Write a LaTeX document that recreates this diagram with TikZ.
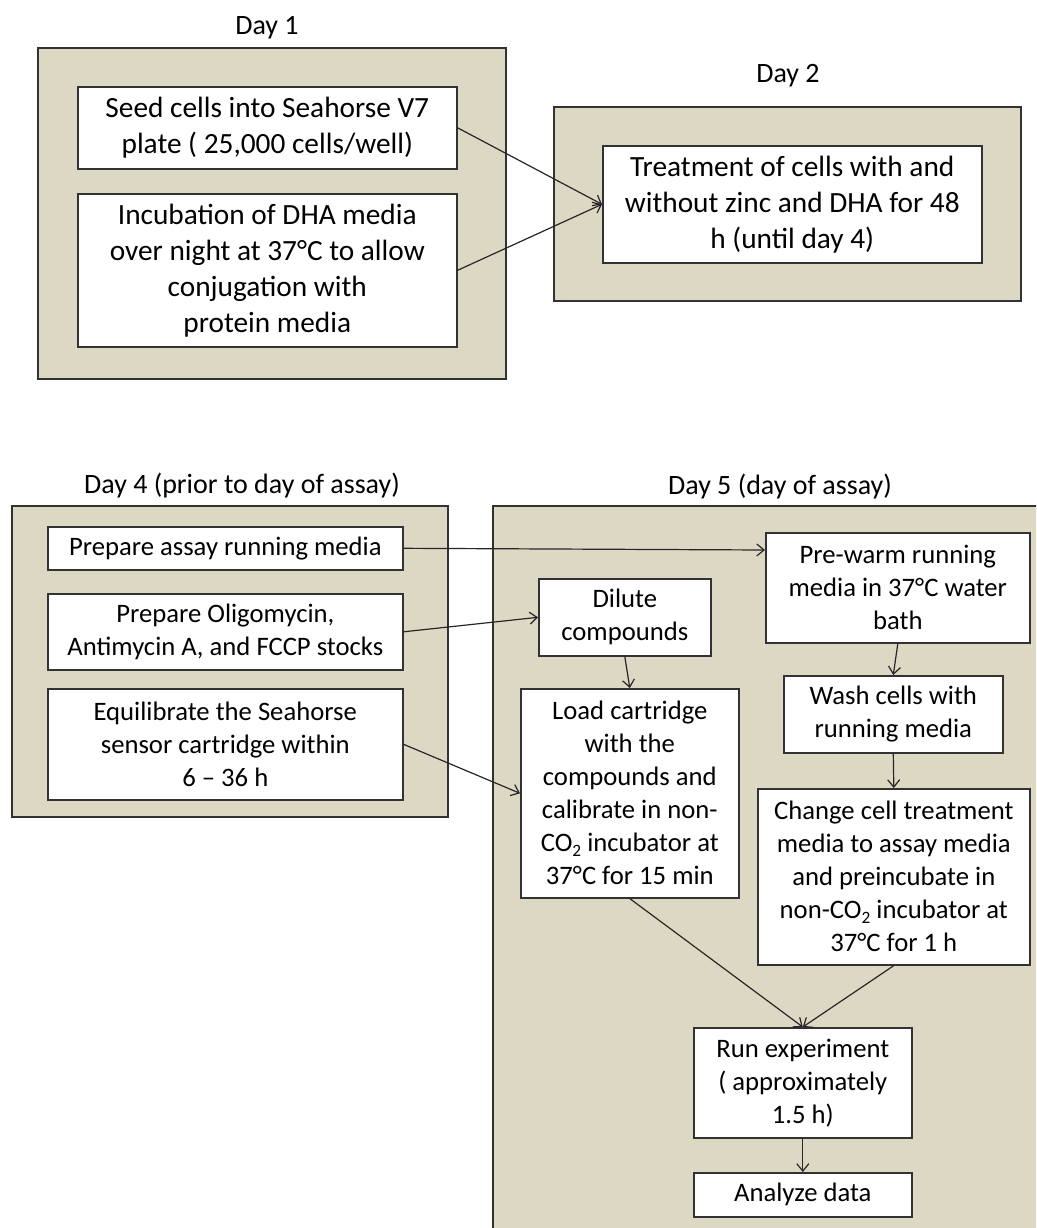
\documentclass[tikz,border=0pt]{standalone}
\usepackage{fontspec}
\setmainfont{Carlito}
\usetikzlibrary{arrows.meta,calc}
\definecolor{tanfill}{RGB}{221,216,196}
\definecolor{edgecol}{RGB}{50,50,50}
\newcommand{\subtwo}{\raisebox{-0.35ex}{\fontsize{13}{13}\selectfont 2}}
\begin{document}
\begin{tikzpicture}[x=0.75pt,y=-0.75pt,
  bx/.style 2 args={minimum width=#1*0.75pt, minimum height=#2*0.75pt},
  panel/.style={draw=edgecol, line width=1.3pt, fill=tanfill, inner sep=0pt, anchor=north west},
  stepbox/.style={draw=edgecol, line width=1.2pt, fill=white, inner sep=0pt, align=center, anchor=north west},
  toptxt/.style={font=\fontsize{22}{27}\selectfont},
  bottxt/.style={font=\fontsize{20}{24.75}\selectfont},
  lbl/.style={inner sep=0pt, font=\fontsize{21}{25}\selectfont},
  conn/.style={line width=0.9pt, draw=black!85, -{Straight Barb[length=5.5pt,width=9pt]}}
]
\useasboundingbox (0,0) rectangle (1036,1228);
\clip (0,0) rectangle (1036,1228);
\fill[white] (0,0) rectangle (1036,1228);

% Day 1
\node[lbl] (lbl1) at (267,28) {Day 1};
\node[panel, bx={468}{331}] (day1) at (37,47) {};
\node[stepbox, bx={379}{82}, toptxt] (seed) at (77,86) {Seed cells into Seahorse V7\\plate ( 25,000 cells/well)};
\node[stepbox, bx={379}{153}, toptxt] (incub) at (77,193) {Incubation of DHA media\\over night at 37°C to allow\\conjugation with\\protein media};

% Day 2
\node[lbl] (lbl2) at (788,76) {Day 2};
\node[panel, bx={467}{194}] (day2) at (553,106) {};
\node[stepbox, bx={379}{117}, toptxt] (treat) at (602,145) {Treatment of cells with and\\without zinc and DHA for 48\\h (until day 4)};

% Day 4
\node[lbl] (lbl4) at (242,486) {Day 4 (prior to day of assay)};
\node[panel, bx={436}{311}] (day4) at (11,505) {};
\node[stepbox, bx={355}{43}, bottxt] (prep) at (47,526) {Prepare assay running media};
\node[stepbox, bx={355}{76}, bottxt] (oligo) at (47,593) {Prepare Oligomycin,\\Antimycin A, and FCCP stocks};
\node[stepbox, bx={355}{111}, bottxt] (equil) at (47,688) {Equilibrate the Seahorse\\sensor cartridge within\\6 – 36 h};

% Day 5
\node[lbl] (lbl5) at (780,487) {Day 5 (day of assay)};
\node[panel, bx={560}{740}] (day5) at (492,505) {};
\node[stepbox, bx={264}{110}, bottxt] (prewarm) at (765,532) {Pre-warm running\\media in 37°C water\\bath};
\node[stepbox, bx={172}{77}, bottxt] (dilute) at (538,578) {Dilute\\compounds};
\node[stepbox, bx={218}{209}, bottxt] (load) at (520,688) {Load cartridge\\with the\\compounds and\\calibrate in non-\\CO\subtwo{} incubator at\\37°C for 15 min};
\node[stepbox, bx={219}{77}, bottxt] (wash) at (783,675) {Wash cells with\\running media};
\node[stepbox, bx={272}{176}, bottxt] (change) at (757,788) {Change cell treatment\\media to assay media\\and preincubate in\\non-CO\subtwo{} incubator at\\37°C for 1 h};
\node[stepbox, bx={218}{110}, bottxt] (run) at (693,1027) {Run experiment\\( approximately\\1.5 h)};
\node[stepbox, bx={218}{44}, bottxt] (analyze) at (693,1172) {Analyze data};

\coordinate (pwin) at ($(prewarm.north west)+(0,18)$);

% connectors
\draw[conn] (seed.east) -- (treat.west);
\draw[conn] (incub.east) -- (treat.west);
\draw[conn] (prep.east) -- (pwin);
\draw[conn] (oligo.east) -- (dilute.west);
\draw[conn] (equil.east) -- (load.west);
\draw[conn] (dilute.south) -- (load.north);
\draw[conn] (prewarm.south) -- (wash.north);
\draw[conn] (wash.south) -- (change.north);
\draw[conn] (load.south) -- (run.north);
\draw[conn] (change.south) -- (run.north);
\draw[conn] (run.south) -- (analyze.north);
\end{tikzpicture}
\end{document}
